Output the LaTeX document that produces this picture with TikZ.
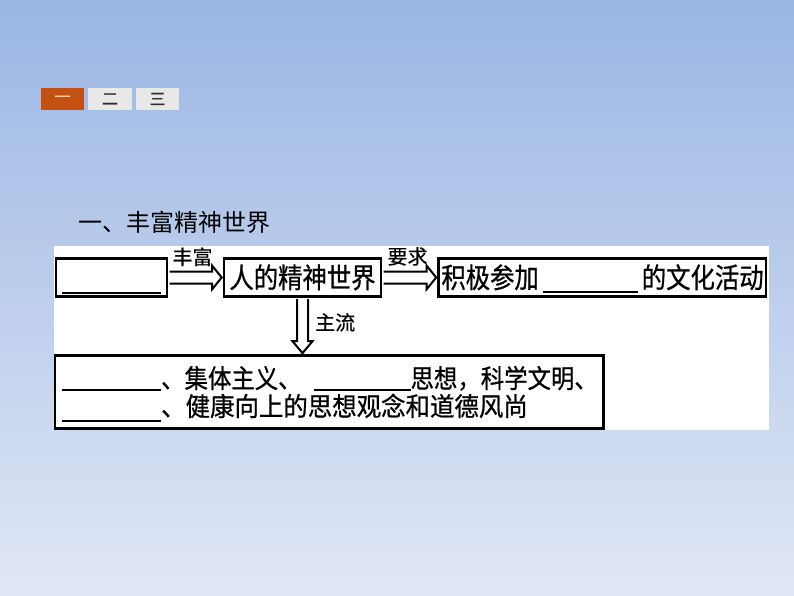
\documentclass[tikz,border=0pt]{standalone}
\usepackage{fontspec}
\newfontfamily\cjk{Noto Sans CJK SC}
\newfontfamily\cjkl[FakeBold=0.5]{Noto Sans CJK SC}
\newfontfamily\cjkn[FakeStretch=0.87,FakeBold=0.7]{Noto Sans CJK SC}
\newfontfamily\cjkm[FakeStretch=0.9,FakeBold=0.7]{Noto Sans CJK SC}
\newfontfamily\cjkw[FakeStretch=0.94,FakeBold=0.7]{Noto Sans CJK SC}
\usetikzlibrary{calc}
\definecolor{bgtop}{RGB}{155,182,228}
\definecolor{bgbot}{RGB}{224,231,245}
\definecolor{taborange}{RGB}{196,80,17}
\definecolor{tabcream}{RGB}{250,218,165}
\definecolor{tabgray}{RGB}{232,232,232}
\definecolor{tabtext}{RGB}{45,45,45}
\newcommand\blankln[2]{\rule[#1]{#2pt}{2pt}}
\begin{document}
\begin{tikzpicture}[x=1pt,y=-1pt,
  box/.style={draw=black, line width=2.6pt, fill=white, inner sep=0pt},
  harrow/.style={draw=black, line width=2pt, fill=white, line join=miter},
  lbl/.style={font=\cjkl\fontsize{20}{22}\selectfont, inner sep=0pt},
  boxtext/.style={font=\cjkn\fontsize{28}{30}\selectfont, inner sep=0pt},
  tab/.style={minimum height=22pt, inner sep=0pt, font=\cjkl\fontsize{16}{16}\selectfont}]
\useasboundingbox (0,0) rectangle (794,596);
\shade[top color=bgtop, bottom color=bgbot] (0,0) rectangle (794,596);
\fill[white] (54,246) rectangle (769,430);
% tabs
\node[tab, minimum width=42.5pt, fill=taborange, text=tabcream] (tab1) at (62.5,99) {一};
\node[tab, minimum width=43.5pt, fill=tabgray, text=tabtext] (tab2) at (110,99) {二};
\node[tab, minimum width=43pt, fill=tabgray, text=tabtext] (tab3) at (157.5,99) {三};
% title
\node[anchor=base west, inner sep=0pt, font=\cjk\fontsize{24}{26}\selectfont] (title) at (78.5,231) {一、丰富精神世界};
% boxes
\node[box, minimum width=111pt, minimum height=38pt] (b1) at (111.5,277.5) {};
\node[box, minimum width=157pt, minimum height=38pt] (b2) at (302.5,277.5) {};
\node[box, minimum width=327.5pt, minimum height=38pt] (b3) at (602.25,277.5) {};
\node[box, minimum width=548.5pt, minimum height=73pt] (b4) at (329.25,392) {};
% box texts
\node[inner sep=0pt, anchor=south west] (b1line) at (62,294) {\rule{99pt}{2pt}};
\node[boxtext, anchor=base] (t2) at (302.5,288) {人的精神世界};
\node[boxtext, anchor=base] (t3) at (602.5,288) {积极参加\hspace{4pt}\blankln{-5pt}{95}\hspace{4pt}的文化活动};
\node[anchor=base west, inner sep=0pt, font=\cjkm\fontsize{26}{28}\selectfont] (l1) at (62,388) {\blankln{-3pt}{99}、集体主义、\hspace{12pt}\blankln{-3pt}{97}思想，科学文明、};
\node[anchor=base west, inner sep=0pt, font=\cjkw\fontsize{26}{28}\selectfont] (l2) at (62,416) {\blankln{-6pt}{99}、健康向上的思想观念和道德风尚};
% arrows
\draw[harrow] ($(b1.east)+(1.3,-6)$) -- ($(b2.west)+(-10.5,-6)$) -- ($(b2.west)+(-10.5,-11.75)$) -- ($(b2.west)+(-1,0)$) -- ($(b2.west)+(-10.5,11.75)$) -- ($(b2.west)+(-10.5,6)$) -- ($(b1.east)+(1.3,6)$);
\draw[harrow] ($(b2.east)+(1.3,-6)$) -- ($(b3.west)+(-10.5,-6)$) -- ($(b3.west)+(-10.5,-11.75)$) -- ($(b3.west)+(-1,0)$) -- ($(b3.west)+(-10.5,11.75)$) -- ($(b3.west)+(-10.5,6)$) -- ($(b2.east)+(1.3,6)$);
\coordinate (dtip) at (b2.south |- b4.north);
\draw[harrow] ($(b2.south)+(-5.5,1.3)$) -- ($(dtip)+(-5.5,-13)$) -- ($(dtip)+(-10,-13)$) -- ($(dtip)+(0,-1)$) -- ($(dtip)+(10,-13)$) -- ($(dtip)+(5.5,-13)$) -- ($(b2.south)+(5.5,1.3)$);
% labels
\node[lbl, anchor=base] (lab1) at (192.5,264.5) {丰富};
\node[lbl, anchor=base] (lab2) at (407.5,264) {要求};
\node[lbl, anchor=base west] (lab3) at (315,330) {主流};
\end{tikzpicture}
\end{document}
